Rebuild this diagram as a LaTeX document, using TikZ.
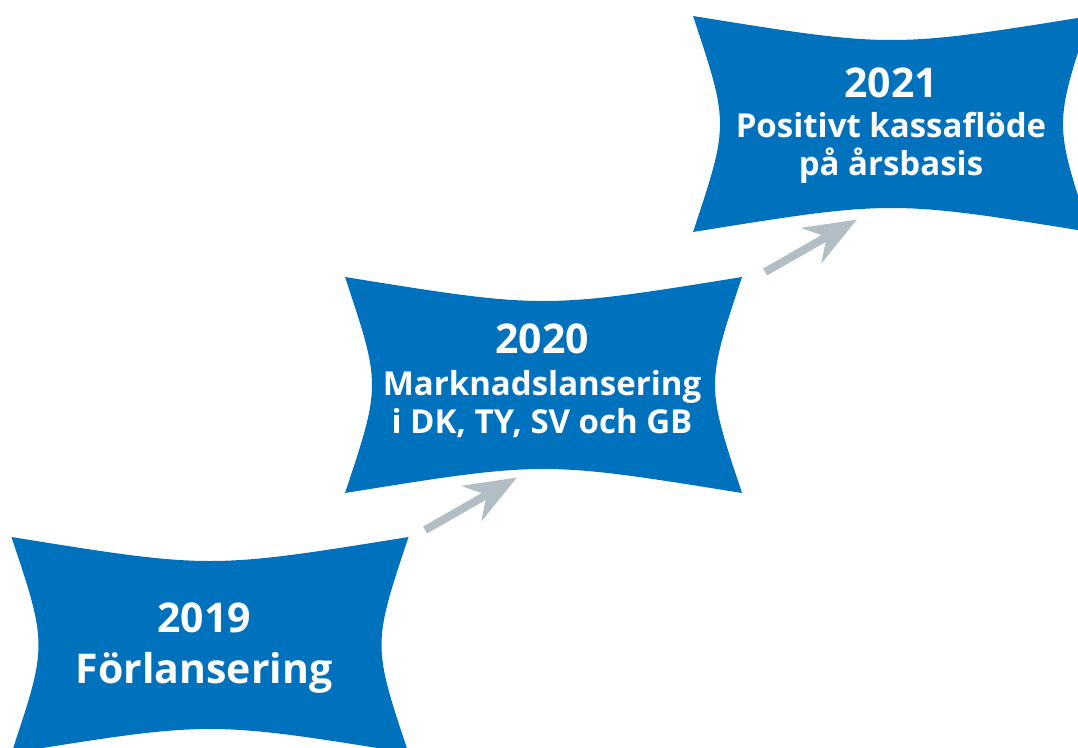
\documentclass[tikz,border=0pt]{standalone}
\usepackage{fontspec}
\setmainfont{Open Sans}
\usetikzlibrary{arrows.meta}
\definecolor{boxblue}{RGB}{0,114,189}
\definecolor{arrowgray}{RGB}{178,190,198}
\tikzset{
  pillow/.pic={\fill[boxblue] (-198.5,-108) .. controls (0,-76) .. (198.5,-108)
      .. controls (162.5,0) .. (198.5,108) .. controls (0,76) .. (-198.5,108)
      .. controls (-162.5,0) .. cycle;},
  label/.style={text=white, align=center, anchor=base, inner sep=0pt, font=\bfseries\fontsize{33}{38}\selectfont},
  stepArrow/.style={draw=arrowgray, line width=8pt,
      -{Stealth[length=52pt, width=40pt, inset=17pt, fill=arrowgray]}}
}
\begin{document}
\begin{tikzpicture}[x=1pt,y=-1pt]
\useasboundingbox (0,0) rectangle (1078,747);
\pic at (210,645) {pillow};
\pic at (543.5,385) {pillow};
\pic at (891.5,124) {pillow};
\node[label, font=\bfseries\fontsize{41}{51}\selectfont] (n2019) at (204,683) {2019\\Förlansering};
\node[label] (n2020) at (542,433) {{\fontsize{41}{42}\selectfont 2020}\\[4pt]Marknadslansering\\i DK, TY, SV och GB};
\node[label] (n2021) at (891,175) {{\fontsize{41}{42}\selectfont 2021}\\[2pt]Positivt kassaflöde\\på årsbasis};
\coordinate (a1s) at (425,530);
\coordinate (a1e) at (517,477.5);
\coordinate (a2s) at (765,272);
\coordinate (a2e) at (857,219.5);
\draw[stepArrow] (a1s) -- (a1e);
\draw[stepArrow] (a2s) -- (a2e);
\end{tikzpicture}
\end{document}
